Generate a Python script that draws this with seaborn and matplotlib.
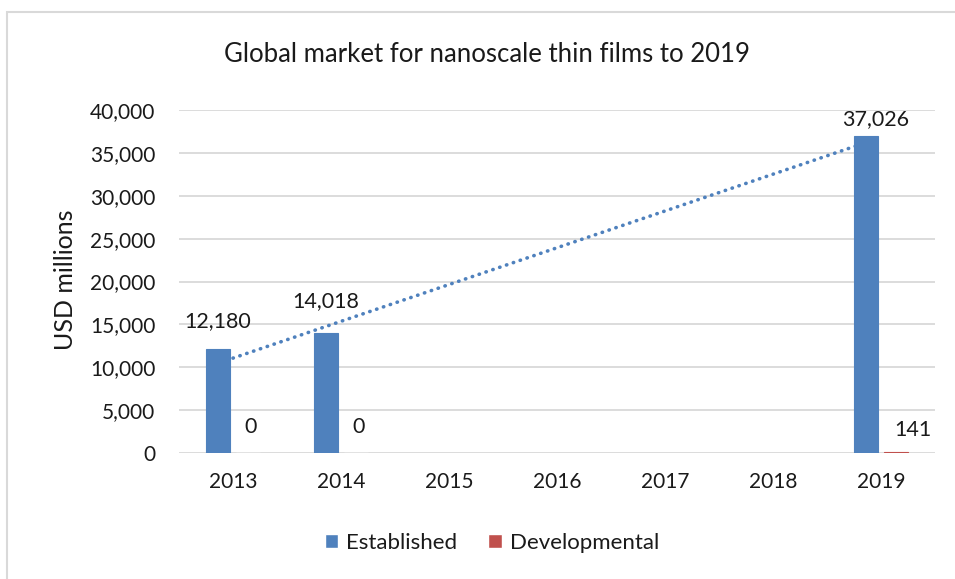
import numpy as np
import pandas as pd
import matplotlib
matplotlib.use("Agg")
import matplotlib.pyplot as plt
import matplotlib.patches as mpatches
import seaborn as sns

# ── data ──────────────────────────────────────────────
years        = ["2013", "2014", "2015", "2016", "2017", "2018", "2019"]
established  = [12180, 14018, np.nan, np.nan, np.nan, np.nan, 37026]
developmental = [0, 0, np.nan, np.nan, np.nan, np.nan, 141]
series_names = ["Established", "Developmental"]
y_ticks      = [0, 5000, 10000, 15000, 20000, 25000, 30000, 35000, 40000]

COLORS = ["#4F81BD", "#C0504D"]
GRID   = "#D9D9D9"
TEXT   = "#1a1a1a"

df = pd.DataFrame({
    "year":   years * 2,
    "value":  established + developmental,
    "series": [series_names[0]] * len(years) + [series_names[1]] * len(years),
})

sns.set_style("white")
plt.rcParams["font.family"] = ["Lato", "DejaVu Sans"]

fig = plt.figure(figsize=(9.55, 5.79), dpi=100)
ax = fig.add_axes([179 / 955, 1 - 453 / 579, 756 / 955, 343 / 579])

sns.barplot(data=df, x="year", y="value", hue="series", order=years,
            hue_order=series_names, palette=COLORS, saturation=1,
            width=0.56, gap=0.2, ax=ax, zorder=2)

# thin outline so the tiny 141 bar still shows up as a line
for cont in ax.containers:
    for bar in cont:
        if bar.get_height() > 0:
            bar.set_edgecolor(bar.get_facecolor())
            bar.set_linewidth(0.8)

# linear trendline over the established series (like Excel)
pos = np.arange(len(years))
est = np.array(established, dtype=float)
ok = ~np.isnan(est)
slope, icpt = np.polyfit(pos[ok], est[ok], 1)
xs = np.array([pos[ok][0], pos[ok][-1]])
ax.plot(xs, slope * xs + icpt, color=COLORS[0], linewidth=2.6,
        linestyle=(0, (0.1, 1.9)), dash_capstyle="round", zorder=3)

# data labels; pixel offsets hand-nudged like the original, keyed by year
offsets = [
    {"2013": (0, 21), "2014": (0, 26), "2019": (10, 10)},
    {"2013": (2, 20), "2014": (2, 20), "2019": (17, 16)},
]
for cont, offs in zip(ax.containers, offsets):
    for bar in cont:
        h = bar.get_height()
        if np.isnan(h):
            continue
        xc = bar.get_x() + bar.get_width() / 2
        year = years[int(round(xc))]
        off = offs.get(year, (0, 8))
        ax.annotate(f"{h:,.0f}", (xc, h), xytext=off, textcoords="offset pixels",
                    ha="center", va="baseline", fontsize=15.5, color=TEXT,
                    zorder=4)

ax.set_ylim(0, 40000)
ax.set_xlim(-0.5, len(years) - 0.5)
ax.set_yticks(y_ticks)
ax.set_yticklabels([f"{t:,}" for t in y_ticks])
ax.yaxis.grid(True, color=GRID, linewidth=1.3, zorder=0)
ax.set_axisbelow(True)
for sp in ax.spines.values():
    sp.set_visible(False)
ax.tick_params(axis="both", length=0, labelsize=15, colors=TEXT)
ax.tick_params(axis="y", pad=17)
ax.tick_params(axis="x", pad=14)
ax.set_xlabel("")
ax.set_ylabel("")

handles, labels = ax.get_legend_handles_labels()
ax.get_legend().remove()
fig.legend(handles, labels, loc="center", bbox_to_anchor=(492 / 955, 1 - 543 / 579),
           ncol=2, frameon=False, fontsize=16, handlelength=0.6, handleheight=0.6,
           handletextpad=0.35, columnspacing=1.4, labelcolor=TEXT)

fig.text(487 / 955, 1 - 55 / 579, "Global market for nanoscale thin films to 2019",
         ha="center", va="center", fontsize=18.5, color=TEXT)
fig.text(65 / 955, 1 - 280 / 579, "USD millions", rotation=90,
         ha="center", va="center", fontsize=18, color=TEXT)

# chart-area border (only top and left edges visible in the crop)
fig.patches.append(mpatches.Rectangle((7 / 955, -0.1), 1.2, 1 - 12 / 579 + 0.1,
                                      transform=fig.transFigure, fill=False,
                                      edgecolor=GRID, linewidth=1.5))

fig.savefig("out.png", dpi=100)
